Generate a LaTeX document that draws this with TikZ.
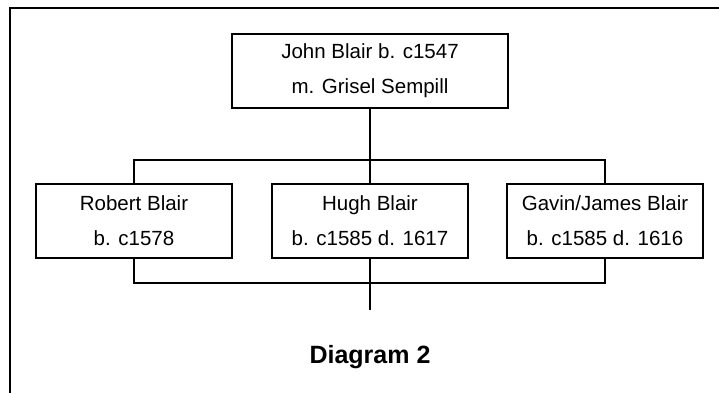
\documentclass[tikz,border=0pt]{standalone}
\usepackage{fontspec}
\setmainfont{Liberation Sans}
\usepackage{tikz}
\usetikzlibrary{positioning}

\begin{document}
\begin{tikzpicture}[x=1pt,y=-1pt]
            \tikzstyle{every node}+=[inner sep=0pt]
            \tikzstyle{person}=[draw=black, line width=2.6pt, minimum width=196pt, minimum height=74pt, align=center, font=\fontsize{20.5}{35}\selectfont]
            \tikzstyle{link}=[black, line width=2.6pt]
            \useasboundingbox (0,0) rectangle (719,393);
            \fill [white] (0,0) rectangle (719,393);
            \draw [black, line width=2pt] (10,393) -- (10,8) -- (719,8);
            \node [person, minimum width=276pt] (john) at (370,71) {John Blair b. c1547\\m. Grisel Sempill};
            \node [person] (robert) at (134,221) {Robert Blair\\b. c1578};
            \node [person] (hugh) at (370,221) {Hugh Blair\\b. c1585 d. 1617};
            \node [person] (gavin) at (605,221) {Gavin/James Blair\\b. c1585 d. 1616};
            \coordinate (upbus) at (370,160);
            \coordinate (lowbus) at (370,283);
            \coordinate (tail) at (370,310);
            \draw [link] (john) -- (hugh);
            \draw [link] (robert.north) |- (upbus) -| (gavin.north);
            \draw [link] (robert.south) |- (lowbus) -| (gavin.south);
            \draw [link] (hugh) -- (tail);
            \node [font=\fontsize{25}{30}\selectfont\bfseries] (title) at (370,357) {Diagram 2};
\end{tikzpicture}
\end{document}
